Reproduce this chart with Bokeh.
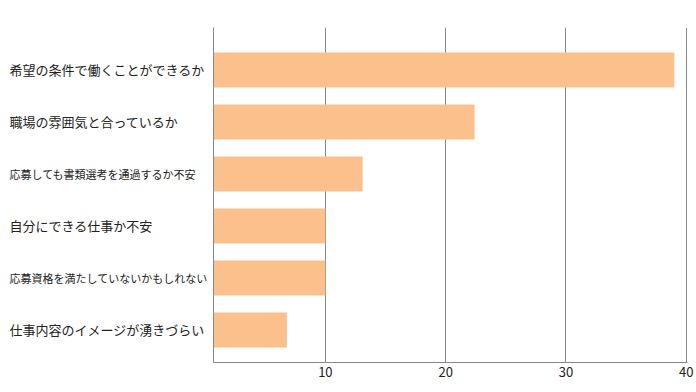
from bokeh.plotting import figure
from bokeh.layouts import row
from bokeh.models import Range1d, FixedTicker, ColumnDataSource
from bokeh.core.properties import value
from bokeh.embed import file_html
from bokeh.resources import INLINE

categories = [
    "希望の条件で働くことができるか",
    "職場の雰囲気と合っているか",
    "応募しても書類選考を通過するか不安",
    "自分にできる仕事か不安",
    "応募資格を満たしていないかもしれない",
    "仕事内容のイメージが湧きづらい",
]
values = [39, 22.4, 13.1, 10, 10, 6.8]
small_label = [False, False, True, False, True, False]
x_ticks = [10, 20, 30, 40]

FONT = "Noto Sans CJK JP"
GRID = "#888888"
TEXT = "#222222"

idx = list(range(len(categories)))
bars = ColumnDataSource(dict(y=idx, v=values))
big = ColumnDataSource(dict(
    y=[i for i in idx if not small_label[i]],
    t=[categories[i] for i in idx if not small_label[i]],
))
small = ColumnDataSource(dict(
    y=[i for i in idx if small_label[i]],
    t=[categories[i] for i in idx if small_label[i]],
))

yr = Range1d(5.625, -0.817)

# left panel holding the category labels
lab = figure(
    frame_width=213, frame_height=335,
    min_border_left=0, min_border_right=0, min_border_top=27, min_border_bottom=22,
    x_range=Range1d(0, 213), y_range=yr,
    x_axis_location=None, y_axis_location=None,
    output_backend="svg", toolbar_location=None,
)
lab.outline_line_color = None
lab.grid.visible = False
lab.text(x=9, y="y", text="t", source=big, text_align="left", text_baseline="middle",
         text_font=value(FONT), text_font_size="13px", text_color=TEXT)
lab.text(x=9, y="y", text="t", source=small, text_align="left", text_baseline="middle",
         text_font=value(FONT), text_font_size="11px", text_color=TEXT)

# chart panel
p = figure(
    frame_width=474, frame_height=335,
    min_border_left=0, min_border_right=9, min_border_top=27, min_border_bottom=22,
    x_range=Range1d(0.7, 40.1), y_range=yr,
    output_backend="svg", toolbar_location=None,
)
p.outline_line_color = None

p.hbar(y="y", left=0, right="v", height=0.673, source=bars,
       fill_color="#fcc08c", line_color=None)

p.xaxis.ticker = FixedTicker(ticks=x_ticks)
p.xaxis.major_tick_out = 0
p.xaxis.major_tick_in = 0
p.xaxis.minor_tick_line_color = None
p.xaxis.axis_line_color = GRID
p.xaxis.major_label_text_font = FONT
p.xaxis.major_label_text_font_size = "13px"
p.xaxis.major_label_text_color = TEXT
p.xaxis.major_label_standoff = 4

p.yaxis.ticker = FixedTicker(ticks=[])
p.yaxis.major_tick_out = 0
p.yaxis.major_tick_in = 0
p.yaxis.minor_tick_line_color = None
p.yaxis.major_label_standoff = 0
p.yaxis.axis_line_color = GRID

p.xgrid.ticker = FixedTicker(ticks=x_ticks)
p.xgrid.grid_line_color = GRID
p.ygrid.grid_line_color = None

layout = row(lab, p, spacing=0)
open("out.html", "w").write(file_html(layout, INLINE))
